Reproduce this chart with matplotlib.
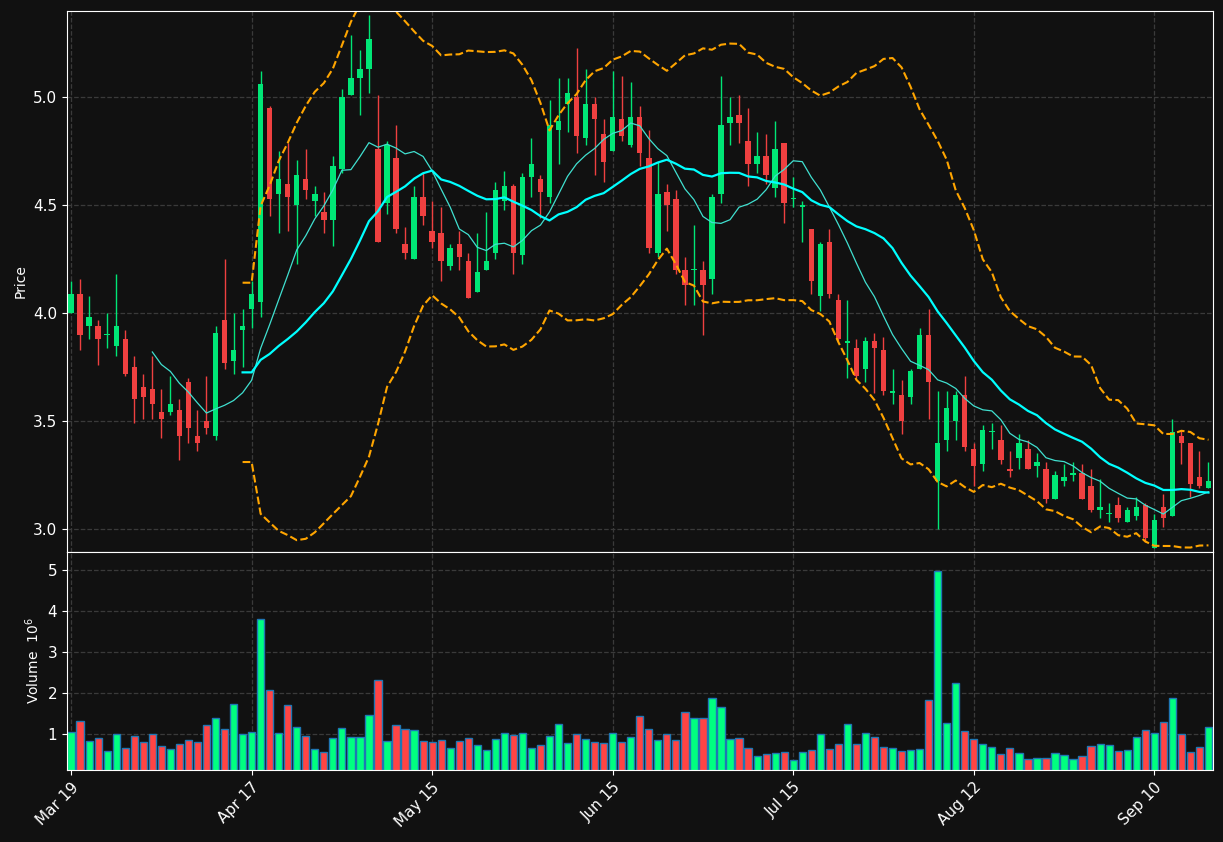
import numpy as np
import pandas as pd
import matplotlib.pyplot as plt

opens = [4.00, 4.09, 3.94, 3.94, 3.90, 3.85, 3.88, 3.75, 3.66, 3.65,
         3.54, 3.54, 3.55, 3.68, 3.43, 3.50, 3.43, 3.97, 3.78, 3.92,
         4.02, 4.05, 4.95, 4.55, 4.60, 4.50, 4.62, 4.52, 4.47, 4.43,
         4.67, 5.01, 5.09, 5.13, 4.76, 4.51, 4.72, 4.32, 4.25, 4.54,
         4.38, 4.37, 4.22, 4.32, 4.24, 4.10, 4.20, 4.28, 4.52, 4.59,
         4.27, 4.63, 4.62, 4.54, 4.85, 4.97, 5.00, 4.81, 4.97, 4.83,
         4.75, 4.90, 4.78, 4.91, 4.72, 4.28, 4.56, 4.53, 4.20, 4.20,
         4.20, 4.16, 4.55, 4.88, 4.92, 4.80, 4.69, 4.73, 4.58, 4.79,
         4.53, 4.49, 4.39, 4.08, 4.33, 4.06, 3.86, 3.84, 3.74, 3.87,
         3.83, 3.63, 3.62, 3.61, 3.74, 3.90, 3.22, 3.41, 3.50, 3.62,
         3.37, 3.30, 3.45, 3.41, 3.28, 3.33, 3.37, 3.29, 3.28, 3.14,
         3.22, 3.25, 3.26, 3.20, 3.09, 3.07, 3.11, 3.03, 3.06, 3.11,
         2.91, 3.10, 3.06, 3.43, 3.40, 3.24, 3.19]
closes = [4.09, 3.90, 3.98, 3.88, 3.90, 3.94, 3.72, 3.60, 3.61, 3.58,
          3.51, 3.58, 3.43, 3.47, 3.40, 3.47, 3.91, 3.77, 3.83, 3.94,
          4.09, 5.06, 4.53, 4.62, 4.54, 4.64, 4.57, 4.55, 4.43, 4.68,
          5.00, 5.09, 5.13, 5.27, 4.33, 4.78, 4.39, 4.28, 4.54, 4.45,
          4.33, 4.24, 4.30, 4.26, 4.07, 4.19, 4.24, 4.57, 4.59, 4.28,
          4.63, 4.69, 4.56, 4.87, 4.89, 5.02, 4.82, 4.97, 4.90, 4.70,
          4.91, 4.82, 4.91, 4.74, 4.30, 4.55, 4.50, 4.20, 4.13, 4.20,
          4.13, 4.54, 4.87, 4.91, 4.88, 4.69, 4.73, 4.64, 4.76, 4.51,
          4.53, 4.50, 4.15, 4.32, 4.09, 3.88, 3.87, 3.71, 3.87, 3.84,
          3.64, 3.64, 3.50, 3.73, 3.90, 3.68, 3.40, 3.56, 3.62, 3.38,
          3.29, 3.46, 3.45, 3.32, 3.27, 3.40, 3.28, 3.31, 3.14, 3.25,
          3.24, 3.26, 3.14, 3.09, 3.10, 3.07, 3.05, 3.09, 3.10, 2.96,
          3.04, 3.05, 3.45, 3.40, 3.21, 3.20, 3.22]
highs = [4.15, 4.16, 4.08, 3.97, 4.00, 4.18, 3.92, 3.80, 3.72, 3.80,
         3.65, 3.71, 3.60, 3.70, 3.55, 3.71, 3.94, 4.25, 4.00, 4.02,
         4.15, 5.12, 4.96, 4.75, 4.79, 4.71, 4.76, 4.59, 4.56, 4.73,
         5.04, 5.29, 5.22, 5.38, 5.01, 4.80, 4.87, 4.40, 4.59, 4.65,
         4.52, 4.49, 4.32, 4.38, 4.28, 4.37, 4.47, 4.61, 4.66, 4.60,
         4.65, 4.81, 4.64, 4.99, 5.09, 5.09, 5.23, 5.13, 5.00, 4.90,
         5.12, 5.10, 5.07, 4.96, 4.85, 4.70, 4.60, 4.57, 4.26, 4.41,
         4.24, 4.55, 5.10, 5.00, 5.01, 4.95, 4.84, 4.83, 4.89, 4.79,
         4.63, 4.52, 4.39, 4.33, 4.39, 4.09, 4.06, 3.88, 3.89, 3.91,
         3.89, 3.74, 3.69, 3.74, 3.93, 4.02, 3.64, 3.64, 3.64, 3.71,
         3.40, 3.48, 3.49, 3.48, 3.36, 3.44, 3.41, 3.35, 3.31, 3.27,
         3.30, 3.31, 3.30, 3.28, 3.23, 3.12, 3.15, 3.10, 3.15, 3.12,
         3.07, 3.16, 3.51, 3.46, 3.40, 3.36, 3.31]
lows = [4.00, 3.83, 3.88, 3.76, 3.84, 3.80, 3.71, 3.49, 3.51, 3.51,
        3.42, 3.53, 3.32, 3.40, 3.36, 3.44, 3.41, 3.74, 3.72, 3.75,
        3.93, 3.98, 4.45, 4.37, 4.38, 4.23, 4.53, 4.45, 4.37, 4.31,
        4.65, 5.01, 4.92, 5.02, 4.33, 4.46, 4.37, 4.25, 4.25, 4.41,
        4.30, 4.15, 4.20, 4.20, 4.07, 4.10, 4.20, 4.25, 4.48, 4.18,
        4.23, 4.54, 4.44, 4.51, 4.69, 4.84, 4.74, 4.78, 4.64, 4.61,
        4.75, 4.80, 4.77, 4.68, 4.28, 4.26, 4.38, 4.18, 4.04, 4.04,
        3.90, 4.09, 4.51, 4.78, 4.79, 4.59, 4.65, 4.60, 4.54, 4.42,
        4.49, 4.33, 4.09, 4.01, 4.07, 3.87, 3.70, 3.70, 3.68, 3.63,
        3.62, 3.58, 3.44, 3.58, 3.74, 3.51, 3.00, 3.36, 3.41, 3.36,
        3.20, 3.27, 3.37, 3.30, 3.24, 3.28, 3.28, 3.24, 3.12, 3.14,
        3.20, 3.22, 3.14, 3.08, 3.05, 3.03, 3.03, 3.03, 3.04, 2.94,
        2.91, 3.01, 3.06, 3.30, 3.15, 3.19, 3.19]
volumes = [1.05, 1.33, 0.83, 0.91, 0.58, 1.00, 0.66, 0.95, 0.81, 1.00,
           0.71, 0.63, 0.76, 0.86, 0.81, 1.23, 1.40, 1.13, 1.74, 1.00,
           1.05, 3.82, 2.07, 1.03, 1.72, 1.18, 0.95, 0.63, 0.56, 0.91,
           1.15, 0.93, 0.93, 1.47, 2.31, 0.83, 1.23, 1.13, 1.10, 0.83,
           0.81, 0.86, 0.66, 0.83, 0.91, 0.73, 0.61, 0.88, 1.03, 0.98,
           1.03, 0.66, 0.73, 0.95, 1.25, 0.78, 1.00, 0.88, 0.81, 0.78,
           1.03, 0.81, 0.93, 1.45, 1.13, 0.86, 1.00, 0.86, 1.55, 1.40,
           1.40, 1.89, 1.65, 0.88, 0.91, 0.66, 0.46, 0.51, 0.53, 0.56,
           0.36, 0.56, 0.61, 1.00, 0.63, 0.76, 1.25, 0.76, 1.03, 0.93,
           0.68, 0.66, 0.58, 0.61, 0.63, 1.82, 4.98, 1.28, 2.24, 1.08,
           0.88, 0.76, 0.68, 0.51, 0.66, 0.53, 0.39, 0.41, 0.41, 0.53,
           0.49, 0.39, 0.46, 0.71, 0.76, 0.73, 0.58, 0.61, 0.93, 1.10,
           1.03, 1.30, 1.89, 1.00, 0.56, 0.68, 1.18]
tick_pos = [0, 20, 40, 60, 80, 100, 120]
tick_labels = ['Mar 19', 'Apr 17', 'May 15', 'Jun 15', 'Jul 15', 'Aug 12', 'Sep 10']

df = pd.DataFrame({'Open': opens, 'High': highs, 'Low': lows, 'Close': closes, 'Volume': volumes})
x = np.arange(len(df))
up = df['Close'] >= df['Open']
ma10 = df['Close'].rolling(10).mean()
ma20 = df['Close'].rolling(20).mean()
sd20 = df['Close'].rolling(20).std(ddof=0)

bg = '#111111'
c_up, c_dn = '#00e676', '#ef4040'
fig = plt.figure(figsize=(12.23, 8.42), dpi=100, facecolor=bg)
ax = fig.add_axes([0.0548, 0.3444, 0.937, 0.6425], facecolor=bg)
axv = fig.add_axes([0.0548, 0.0855, 0.937, 0.2589], facecolor=bg, sharex=ax)

for i in x:
    col = c_up if up[i] else c_dn
    ax.vlines(i, df['Low'][i], df['High'][i], color=col, lw=1)
    lo = min(opens[i], closes[i])
    h = max(abs(closes[i] - opens[i]), 0.005)
    ax.bar(i, h, bottom=lo, width=0.6, color=col, linewidth=0)

ax.plot(x, ma10, color='#40e0d0', lw=0.9)
ax.plot(x, ma20, color='#00ffff', lw=1.6)
ax.plot(x, ma20 + 2 * sd20, color='#ffa500', lw=1.5, ls='--')
ax.plot(x, ma20 - 2 * sd20, color='#ffa500', lw=1.5, ls='--')

vcols = ['#00ff80' if u else '#ff4444' for u in up]
axv.bar(x, df['Volume'], width=0.8, color=vcols, edgecolor='#1f77b4', linewidth=1)

ax.set_xlim(-0.45, 126.5)
ax.set_ylim(2.893, 5.40)
ax.set_yticks([3.0, 3.5, 4.0, 4.5, 5.0])
ax.set_ylabel('Price', color='white')
axv.set_ylim(0.12, 5.45)
axv.set_yticks([1, 2, 3, 4, 5])
axv.set_ylabel('Volume  $10^6$', color='white')
axv.set_xticks(tick_pos)
axv.set_xticklabels(tick_labels, rotation=45, ha='right', rotation_mode='anchor')
plt.setp(ax.get_xticklabels(), visible=False)
ax.tick_params(axis='x', length=0)

for a in (ax, axv):
    a.grid(True, color='#3a3a3a', ls='--', lw=0.9)
    a.set_axisbelow(True)
    a.tick_params(colors='white', labelsize=11)
    for s in a.spines.values():
        s.set_color('white')

fig.savefig('out.png', dpi=100, facecolor=bg)
